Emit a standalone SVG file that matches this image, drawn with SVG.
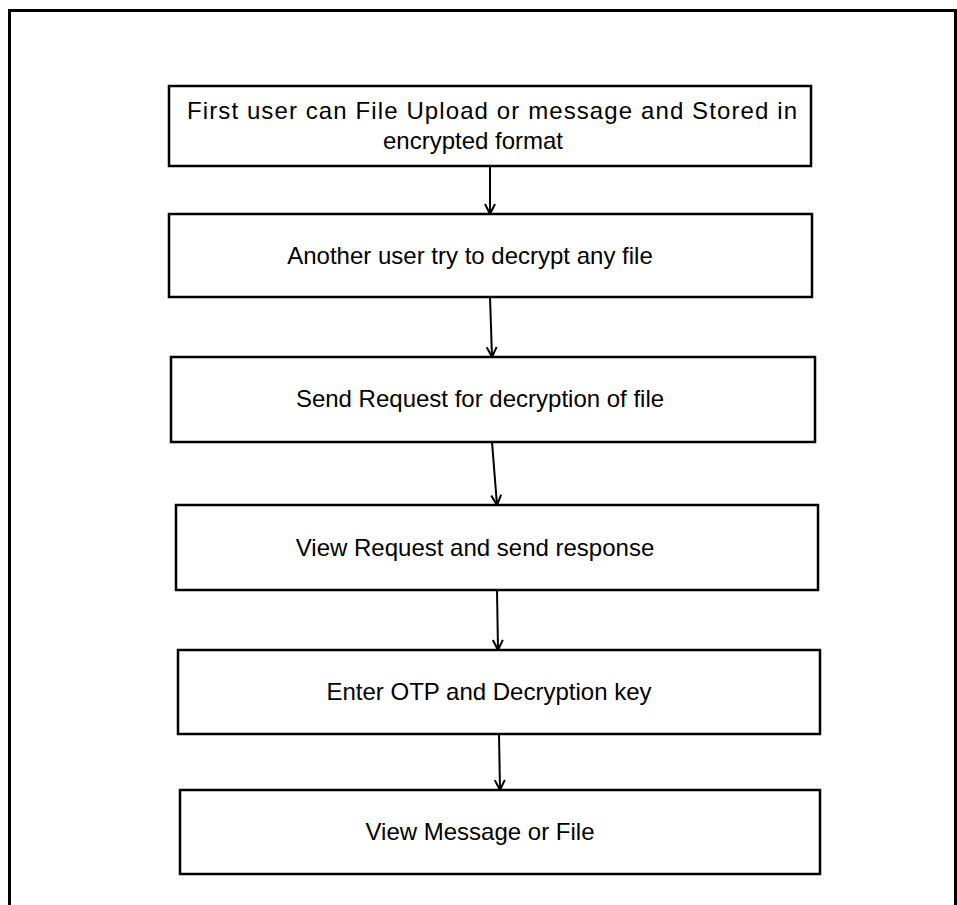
<svg xmlns="http://www.w3.org/2000/svg" width="957" height="905" viewBox="0 0 957 905">
<style>
.box{fill:#fff;stroke:#000;stroke-width:2.5}
.t{font-family:"Liberation Sans",Arial,sans-serif;font-size:24px;fill:#000;text-anchor:middle}
.c{stroke:#000;stroke-width:2;fill:none}
</style>
<defs>
<marker id="ah" viewBox="0 0 12 12" refX="11" refY="6" markerWidth="12" markerHeight="12" markerUnits="userSpaceOnUse" orient="auto">
<path d="M1,1 L11,6 L1,11" fill="none" stroke="#000" stroke-width="2"/>
</marker>
</defs>
<rect width="957" height="905" fill="#fff"/>
<path d="M9.5,905 V10.5 H955.5 V905" fill="none" stroke="#000" stroke-width="3"/>
<g id="n1"><rect class="box" x="169" y="86" width="642" height="80"/>
<text class="t" x="492" y="119" textLength="610" lengthAdjust="spacing">First user can File Upload or message and Stored in</text>
<text class="t" x="473" y="149">encrypted format</text></g>
<g id="n2"><rect class="box" x="169" y="214" width="643" height="83"/>
<text class="t" x="470" y="264">Another user try to decrypt any file</text></g>
<g id="n3"><rect class="box" x="171" y="357" width="644" height="85"/>
<text class="t" x="480" y="407">Send Request for decryption of file</text></g>
<g id="n4"><rect class="box" x="176" y="505" width="642" height="85"/>
<text class="t" x="475" y="556">View Request and send response</text></g>
<g id="n5"><rect class="box" x="178" y="650" width="642" height="84"/>
<text class="t" x="489" y="700">Enter OTP and Decryption key</text></g>
<g id="n6"><rect class="box" x="180" y="790" width="640" height="84"/>
<text class="t" x="480" y="840">View Message or File</text></g>
<g id="connectors">
<line class="c" x1="490" y1="166" x2="490" y2="214" marker-end="url(#ah)"/>
<line class="c" x1="490" y1="297" x2="492" y2="357" marker-end="url(#ah)"/>
<line class="c" x1="492" y1="442" x2="497" y2="505" marker-end="url(#ah)"/>
<line class="c" x1="497" y1="590" x2="498" y2="650" marker-end="url(#ah)"/>
<line class="c" x1="499" y1="734" x2="500" y2="790" marker-end="url(#ah)"/>
</g>
</svg>
